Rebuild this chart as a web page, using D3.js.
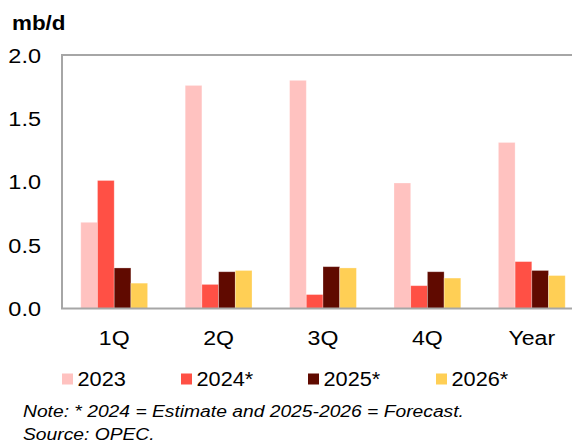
<!DOCTYPE html>
<html>
<head>
<meta charset="utf-8">
<script src="https://cdn.jsdelivr.net/npm/d3@7/dist/d3.min.js"></script>
<style>
  html, body { margin: 0; padding: 0; background: #fff; }
  svg { display: block; font-family: "Liberation Sans", Arial, sans-serif; }
</style>
</head>
<body>
<svg id="chart" width="572" height="443"></svg>
<script>
// ---- data ----
const categories = ["1Q", "2Q", "3Q", "4Q", "Year"];
const seriesNames = ["2023", "2024*", "2025*", "2026*"];
const values2023 = [0.68, 1.76, 1.80, 0.99, 1.31];
const values2024 = [1.01, 0.19, 0.11, 0.18, 0.37];
const values2025 = [0.32, 0.29, 0.33, 0.29, 0.30];
const values2026 = [0.20, 0.30, 0.32, 0.24, 0.26];
const yTicks = [0, 0.5, 1.0, 1.5, 2.0];
const unitLabel = "mb/d";
const noteLines = ["Note: * 2024 = Estimate and 2025-2026 = Forecast.", "Source: OPEC."];

const seriesValues = [values2023, values2024, values2025, values2026];
const colors = ["#FFC2C0", "#FF5045", "#600A00", "#FFCF55"];

// ---- layout ----
const svg = d3.select("#chart");
const mLeft = 62, mTop = 55, mRight = 584, mBottom = 308.5;

const x = d3.scaleBand().domain(categories).range([mLeft, mRight]).paddingInner(0.36).paddingOuter(0.18);
const xi = d3.scaleBand().domain(seriesNames).range([0, x.bandwidth()]).padding(0);
const y = d3.scaleLinear().domain([0, 2]).range([mBottom, mTop]);

function txt(g, s, px, py, size, anchor, sx, opts = {}) {
  const t = g.append("text")
    .attr("transform", `translate(${px},${py}) scale(${sx},1)`)
    .attr("font-size", size)
    .attr("text-anchor", anchor)
    .attr("fill", "#000")
    .text(s);
  if (opts.bold) t.attr("font-weight", "bold");
  if (opts.italic) t.attr("font-style", "italic");
  return t;
}

// bars
const rows = categories.map((c, i) => ({ cat: c, vals: seriesNames.map((s, j) => ({ s, j, v: seriesValues[j][i] })) }));
const groups = svg.append("g").selectAll("g").data(rows).join("g")
  .attr("transform", d => `translate(${x(d.cat)},0)`);
groups.selectAll("rect").data(d => d.vals).join("rect")
  .attr("x", d => xi(d.s))
  .attr("width", xi.bandwidth())
  .attr("y", d => y(d.v))
  .attr("height", d => y(0) - y(d.v))
  .attr("fill", d => colors[d.j])
  .attr("stroke", "#fff")
  .attr("stroke-opacity", 0.35)
  .attr("stroke-width", 0.8);

// plot frame
svg.append("rect")
  .attr("x", mLeft).attr("y", mTop)
  .attr("width", mRight - mLeft).attr("height", mBottom - mTop)
  .attr("fill", "none").attr("stroke", "#A6A6A6").attr("stroke-width", 2);

// y tick labels
const yg = svg.append("g");
yTicks.forEach(t => {
  txt(yg, d3.format(".1f")(t), 41, y(t) + 7.5, 21, "end", 1.12);
});

// x category labels
const xg = svg.append("g");
categories.forEach(c => {
  txt(xg, c, x(c) + x.bandwidth() / 2, 345, 21, "middle", 1.1);
});

// unit label
txt(svg, unitLabel, 12, 30, 20, "start", 1.12, { bold: true });

// legend
const legendX = [62, 181, 308, 436];
const lg = svg.append("g");
seriesNames.forEach((s, j) => {
  lg.append("rect").attr("x", legendX[j]).attr("y", 373.5).attr("width", 11).attr("height", 11).attr("fill", colors[j]);
  txt(lg, s, legendX[j] + 15.5, 386, 20.5, "start", 1.06);
});

// notes
txt(svg, noteLines[0], 23, 417, 17.2, "start", 1.12, { italic: true });
txt(svg, noteLines[1], 23, 440, 17.2, "start", 1.12, { italic: true });
</script>
</body>
</html>
